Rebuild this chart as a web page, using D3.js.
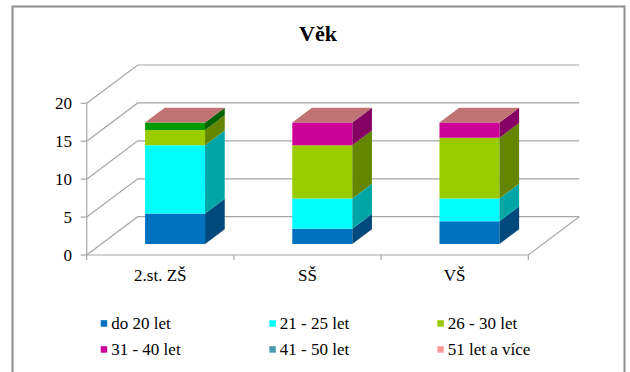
<!DOCTYPE html>
<html>
<head>
<meta charset="utf-8">
<script src="https://cdn.jsdelivr.net/npm/d3@7"></script>
<style>
    body { margin: 0; background: #fff; }
    text { font-family: 'Times New Roman'; }
</style>
</head>
<body>
<svg id="chart" width="630" height="372"></svg>
<script>
// data
let categories = ['2.st. ZŠ', 'SŠ', 'VŠ'];
let seriesNames = ['do 20 let', '21 - 25 let', '26 - 30 let', '31 - 40 let', '41 - 50 let', '51 let a více'];
let do20 = [4, 2, 3];
let let21_25 = [9, 4, 3];
let let26_30 = [2, 7, 8];
let let31_40 = [0, 3, 2];
let let41_50 = [1, 0, 0];
let let51 = [0, 0, 0];
let yTicks = [0, 5, 10, 15, 20];

// colours: legend swatches and bar fills (41-50 is drawn green in the bars)
let legendColors = ['#0070c0', '#00ffff', '#99cc00', '#cc0099', '#4a9ab0', '#ff9999'];
let barColors = ['#0070c0', '#00ffff', '#99cc00', '#cc0099', '#009900', '#ff9999'];

let svg = d3.select('#chart');

// frame
svg.append('rect')
    .attr('x', 12.5).attr('y', 6.5)
    .attr('width', 612).attr('height', 372)
    .attr('fill', 'none').attr('stroke', '#8c8c8c').attr('stroke-width', 2);

// title
svg.append('text')
    .attr('x', 318).attr('y', 40.5)
    .attr('text-anchor', 'middle')
    .style('font-family', 'Times New Roman')
    .style('font-size', '22px').style('font-weight', 'bold')
    .text('Věk');

// build table for the stack
let table = categories.map(function (c, i) {
    return {
        cat: c,
        s0: do20[i], s1: let21_25[i], s2: let26_30[i],
        s3: let31_40[i], s4: let41_50[i], s5: let51[i]
    };
});
let keys = ['s0', 's1', 's2', 's3', 's4', 's5'];
let stacked = d3.stack().keys(keys)(table);

// front plane scales
let x = d3.scaleBand().domain(categories).range([86.7, 528.3]);
let y = d3.scaleLinear().domain([0, 20]).range([255, 103.3]);
// depth of the 3D box
let DX = 51, DY = 38.3;
let proj = function (px, py, d) {
    return [px + d * DX, py - d * DY];
};
let x0 = x.range()[0], x1 = x.range()[1];

let grid = svg.append('g').attr('stroke', '#a6a6a6').attr('stroke-width', 1.2).attr('fill', 'none');
let line = d3.line();
yTicks.forEach(function (t) {
    let a = [x0, y(t)];
    let b = proj(x0, y(t), 1);
    let c = proj(x1, y(t), 1);
    grid.append('path').attr('d', line([a, b, c]));
    // tick on the vertical axis
    grid.append('path').attr('d', line([[x0 - 6, y(t)], [x0, y(t)]]));
});
// floor front + right edge
grid.append('path').attr('d', line([[x0, y(0)], [x1, y(0)], proj(x1, y(0), 1)]));
// vertical axis
grid.append('path').attr('d', line([[x0, y(0)], [x0, y(20)]]));
// category ticks
let bounds = categories.map(function (c) { return x(c); }).concat([x1]);
bounds.forEach(function (b) {
    grid.append('path').attr('d', line([[b, y(0)], [b, y(0) + 5]]));
});

// y labels
svg.append('g').selectAll('text')
    .data(yTicks)
    .enter()
    .append('text')
    .attr('x', 72)
    .attr('y', function (d) { return y(d) + 5.5; })
    .attr('text-anchor', 'end')
    .style('font-family', 'Times New Roman')
    .style('font-size', '17px')
    .text(function (d) { return d; });

// x labels
svg.append('g').selectAll('text')
    .data(categories)
    .enter()
    .append('text')
    .attr('x', function (d) { return x(d) + x.bandwidth() / 2; })
    .attr('y', 281)
    .attr('text-anchor', 'middle')
    .style('font-family', 'Times New Roman')
    .style('font-size', '17px')
    .text(function (d) { return d; });

// bars
let barW = 60;
let d0 = 0.29, d1 = 0.675;
let shade = function (c, k) {
    let r = d3.rgb(c);
    return d3.rgb(r.r * k, r.g * k, r.b * k).toString();
};
let bars = svg.append('g');
categories.forEach(function (cat, i) {
    let cx = x(cat) + x.bandwidth() / 2;
    let left = cx - barW / 2, right = cx + barW / 2;
    stacked.forEach(function (layer, si) {
        let v0 = layer[i][0], v1 = layer[i][1];
        let col = barColors[si];
        let fl = proj(left, y(v0), d0), fr = proj(right, y(v0), d0);
        let tl = proj(left, y(v1), d0), tr = proj(right, y(v1), d0);
        let br = proj(right, y(v0), d1), btr = proj(right, y(v1), d1), btl = proj(left, y(v1), d1);
        if (v1 > v0) {
            // front
            bars.append('path').attr('d', line([fl, fr, tr, tl]) + 'Z').attr('fill', col);
            // side
            bars.append('path').attr('d', line([fr, br, btr, tr]) + 'Z').attr('fill', shade(col, 0.65));
        }
        if (si === stacked.length - 1) {
            // top face of the stack
            bars.append('path').attr('d', line([tl, tr, btr, btl]) + 'Z').attr('fill', shade(col, 0.75));
        }
    });
});

// legend
let legendPos = [
    [100.7, 323.7], [269.3, 323.7], [437.3, 323.7],
    [100.7, 349.7], [269.3, 349.7], [437.3, 349.7]
];
let legend = svg.append('g').selectAll('g')
    .data(seriesNames)
    .enter()
    .append('g')
    .attr('transform', function (d, i) {
        return 'translate(' + legendPos[i][0] + ',' + legendPos[i][1] + ')';
    });
legend.append('rect')
    .attr('x', 0).attr('y', -3.5)
    .attr('width', 6.5).attr('height', 6.5)
    .attr('fill', function (d, i) { return legendColors[i]; });
legend.append('text')
    .attr('x', 10.5).attr('y', 5.5)
    .style('font-family', 'Times New Roman')
    .style('font-size', '17px')
    .text(function (d) { return d; });
</script>
</body>
</html>
